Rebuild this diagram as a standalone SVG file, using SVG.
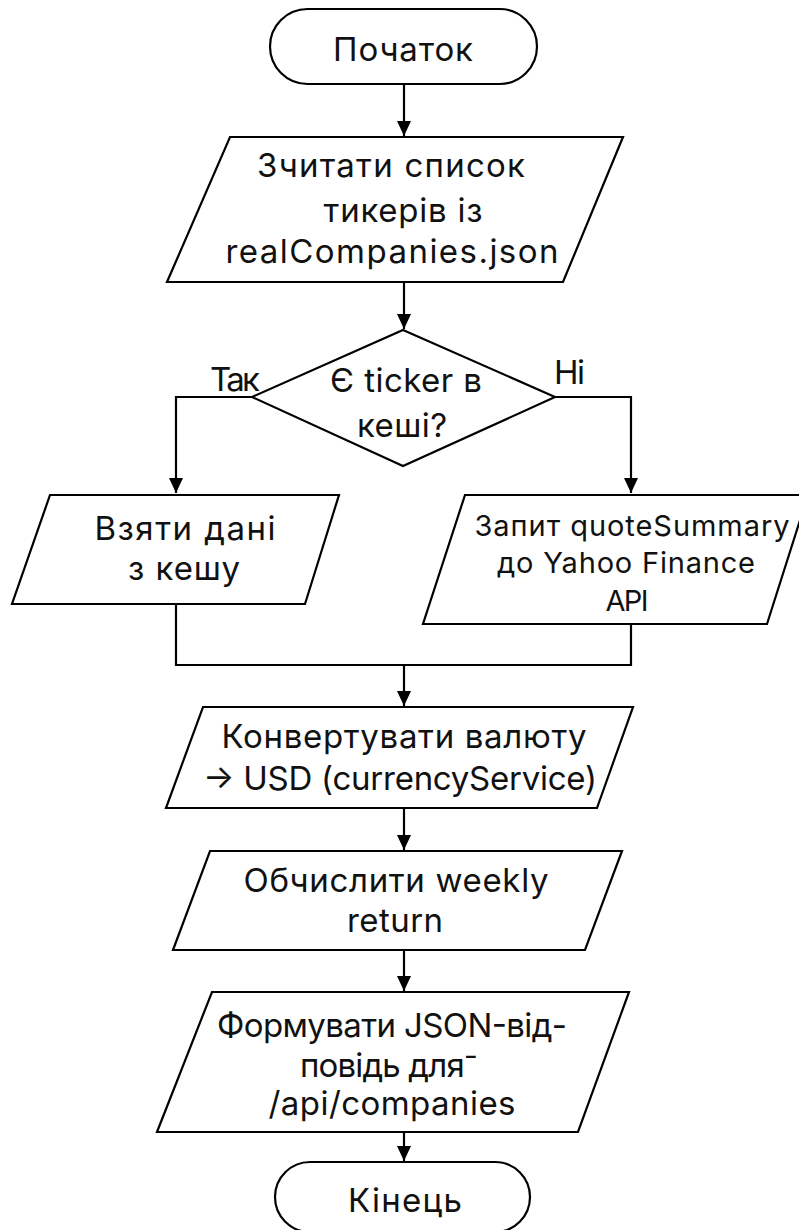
<svg xmlns="http://www.w3.org/2000/svg" width="799" height="1230" viewBox="0 0 799 1230">
<style>
.s{fill:#fff;stroke:#000;stroke-width:2.2;stroke-linejoin:miter}
.c{fill:none;stroke:#000;stroke-width:2.2}
text{font-family:Inter,"Liberation Sans","DejaVu Sans",sans-serif;font-size:33px;fill:#111;text-anchor:middle}
.lbl{text-anchor:start}
.sm{font-size:29px}
</style>
<defs>
<marker id="ah" markerUnits="userSpaceOnUse" markerWidth="16" markerHeight="16" refX="15" refY="7" orient="auto">
<path d="M0,0 L15,7 L0,14 z" fill="#000"/>
</marker>
</defs>
<rect width="799" height="1230" fill="#fff"/>
<g id="connectors">
<path class="c" d="M404,84 V136" marker-end="url(#ah)"/>
<path class="c" d="M404,282 V329" marker-end="url(#ah)"/>
<path class="c" d="M252,397 H176 V493" marker-end="url(#ah)"/>
<path class="c" d="M555,397 H631 V493" marker-end="url(#ah)"/>
<path class="c" d="M176,604 V665 H631 V624"/>
<path class="c" d="M404,665 V706" marker-end="url(#ah)"/>
<path class="c" d="M404,808 V850" marker-end="url(#ah)"/>
<path class="c" d="M404,950 V991" marker-end="url(#ah)"/>
<path class="c" d="M404,1132 V1161" marker-end="url(#ah)"/>
</g>
<g id="start">
<rect class="s" x="270" y="9" width="267" height="75" rx="37.5"/>
<text x="403" y="61" textLength="140">Початок</text>
</g>
<g id="read">
<polygon class="s" points="230,137 623,137 563,282 167,282"/>
<text x="391" y="177" textLength="268">Зчитати список</text>
<text x="403" y="222" textLength="159">тикерів із</text>
<text x="392" y="263" textLength="333">realCompanies.json</text>
</g>
<g id="decision">
<polygon class="s" points="403,330 555,397 403,466 252,397"/>
<text x="406" y="392" textLength="152">Є ticker в</text>
<text x="402" y="437" textLength="90">кеші?</text>
<text class="lbl" x="210" y="391" textLength="50">Так</text>
<text class="lbl" x="554" y="384" textLength="31">Ні</text>
</g>
<g id="cache">
<polygon class="s" points="50,495 339,495 305,604 12,604"/>
<text x="185" y="540" textLength="181">Взяти дані</text>
<text x="184" y="580" textLength="112">з кешу</text>
</g>
<g id="yahoo">
<polygon class="s" points="465,495 808,495 767,624 423,624"/>
<text class="sm" x="632" y="536" textLength="315">Запит quoteSummary</text>
<text class="sm" x="626" y="573" textLength="258">до Yahoo Finance</text>
<text class="sm" x="627" y="611" textLength="43">API</text>
</g>
<g id="convert">
<polygon class="s" points="203,707 633,707 597,808 166,808"/>
<text x="404" y="748" textLength="365">Конвертувати валюту</text>
<text x="400" y="790" textLength="394">→ USD (currencyService)</text>
</g>
<g id="weekly">
<polygon class="s" points="210,851 622,851 585,950 173,950"/>
<text x="396" y="892" textLength="305">Обчислити weekly</text>
<text x="395" y="932" textLength="96">return</text>
</g>
<g id="format">
<polygon class="s" points="212,992 629,992 578,1132 157,1132"/>
<text x="392" y="1037" textLength="350">Формувати JSON-від-</text>
<text x="389" y="1077" textLength="178">повідь для⁻</text>
<text x="392" y="1115" textLength="247">/api/companies</text>
</g>
<g id="end">
<rect class="s" x="275" y="1162" width="255" height="70" rx="35"/>
<text x="405" y="1212" textLength="114">Кінець</text>
</g>
</svg>
